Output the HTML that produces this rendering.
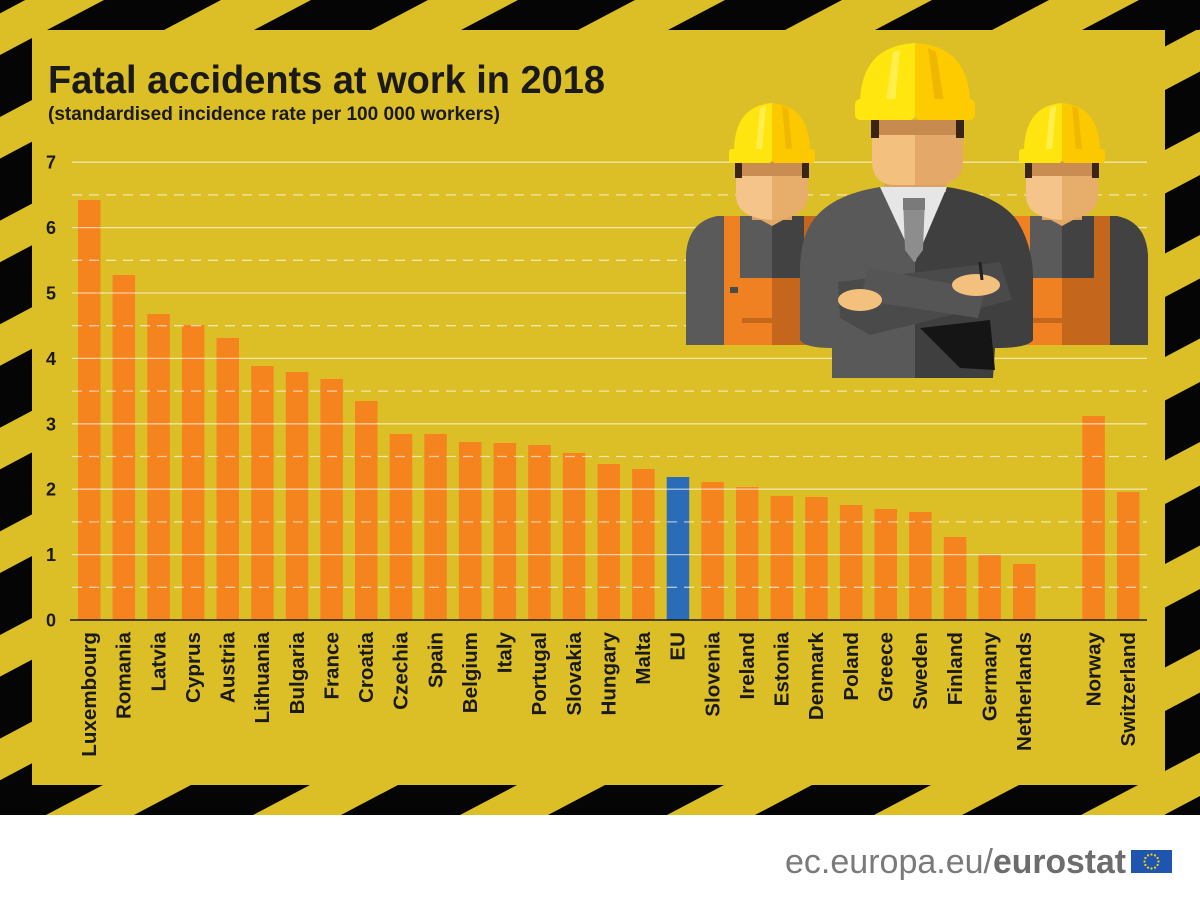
<!DOCTYPE html>
<html>
<head>
<meta charset="utf-8">
<style>
  html,body{margin:0;padding:0;background:#fff;}
  svg{display:block;}
  text{font-family:"Liberation Sans",Arial,sans-serif;}
</style>
</head>
<body>
<svg width="1200" height="901" viewBox="0 0 1200 901" xmlns="http://www.w3.org/2000/svg">
  <defs>
    <clipPath id="cTop"><rect x="0" y="0" width="1200" height="30"/></clipPath>
    <clipPath id="cBot"><rect x="0" y="785" width="1200" height="30"/></clipPath>
    <clipPath id="cLeft"><rect x="0" y="0" width="32" height="815"/></clipPath>
    <clipPath id="cRight"><rect x="1165" y="0" width="35" height="815"/></clipPath>
  </defs>

  <!-- background -->
  <rect x="0" y="0" width="1200" height="901" fill="#ffffff"/>
  <rect x="0" y="0" width="1200" height="815" fill="#dcbe27"/>

  <!-- hazard stripes -->
  <g fill="#050505">
    <g clip-path="url(#cTop)">
      <polygon points="-160,30 -43,30 14,0 -103,0"/>
      <polygon points="47,30 164,30 221,0 104,0"/>
      <polygon points="254,30 371,30 428,0 311,0"/>
      <polygon points="461,30 578,30 635,0 518,0"/>
      <polygon points="668,30 785,30 842,0 725,0"/>
      <polygon points="875,30 992,30 1049,0 932,0"/>
      <polygon points="1082,30 1199,30 1256,0 1139,0"/>
    </g>
    <g clip-path="url(#cBot)">
      <polygon points="-16,785 103,785 46,815 -73,815"/>
      <polygon points="191,785 310,785 253,815 134,815"/>
      <polygon points="398,785 517,785 460,815 341,815"/>
      <polygon points="605,785 724,785 667,815 548,815"/>
      <polygon points="812,785 931,785 874,815 755,815"/>
      <polygon points="1019,785 1138,785 1081,815 962,815"/>
      <polygon points="1226,785 1345,785 1288,815 1169,815"/>
    </g>
    <g clip-path="url(#cLeft)">
      <polygon points="32,-65.6 32,-3.6 0,13.4 0,-48.6"/>
      <polygon points="32,38 32,100 0,117 0,55"/>
      <polygon points="32,141.6 32,203.6 0,220.6 0,158.6"/>
      <polygon points="32,245.2 32,307.2 0,324.2 0,262.2"/>
      <polygon points="32,348.8 32,410.8 0,427.8 0,365.8"/>
      <polygon points="32,452.4 32,514.4 0,531.4 0,469.4"/>
      <polygon points="32,556 32,618 0,635 0,573"/>
      <polygon points="32,659.6 32,721.6 0,738.6 0,676.6"/>
      <polygon points="32,763.2 32,825.2 0,842.2 0,780.2"/>
    </g>
    <g clip-path="url(#cRight)">
      <polygon points="1165,-13.5 1200,-32 1200,28 1165,46.5"/>
      <polygon points="1165,90 1200,71.5 1200,131.5 1165,150"/>
      <polygon points="1165,193.5 1200,175 1200,235 1165,253.5"/>
      <polygon points="1165,297 1200,278.5 1200,338.5 1165,357"/>
      <polygon points="1165,400.5 1200,382 1200,442 1165,460.5"/>
      <polygon points="1165,504 1200,485.5 1200,545.5 1165,564"/>
      <polygon points="1165,607.5 1200,589 1200,649 1165,667.5"/>
      <polygon points="1165,711 1200,692.5 1200,752.5 1165,771"/>
      <polygon points="1165,814.5 1200,796 1200,856 1165,874.5"/>
    </g>
  </g>

  <!-- title -->
  <text x="48" y="93" font-size="39" font-weight="bold" fill="#1a1a1a" textLength="557" lengthAdjust="spacingAndGlyphs">Fatal accidents at work in 2018</text>
  <text x="48" y="120" font-size="19" font-weight="bold" fill="#1a1a1a" textLength="452" lengthAdjust="spacingAndGlyphs">(standardised incidence rate per 100 000 workers)</text>

  <!-- bars -->
  <g fill="#f5841f">
    <rect x="78.0" y="200" width="22.5" height="420"/>
    <rect x="112.6" y="275" width="22.5" height="345"/>
    <rect x="147.3" y="314" width="22.5" height="306"/>
    <rect x="181.9" y="325" width="22.5" height="295"/>
    <rect x="216.5" y="338" width="22.5" height="282"/>
    <rect x="251.2" y="366" width="22.5" height="254"/>
    <rect x="285.8" y="372" width="22.5" height="248"/>
    <rect x="320.4" y="379" width="22.5" height="241"/>
    <rect x="355.0" y="401" width="22.5" height="219"/>
    <rect x="389.7" y="434" width="22.5" height="186"/>
    <rect x="424.3" y="434" width="22.5" height="186"/>
    <rect x="458.9" y="442" width="22.5" height="178"/>
    <rect x="493.6" y="443" width="22.5" height="177"/>
    <rect x="528.2" y="445" width="22.5" height="175"/>
    <rect x="562.8" y="453" width="22.5" height="167"/>
    <rect x="597.5" y="464" width="22.5" height="156"/>
    <rect x="632.1" y="469" width="22.5" height="151"/>
    <rect x="701.3" y="482" width="22.5" height="138"/>
    <rect x="736.0" y="487" width="22.5" height="133"/>
    <rect x="770.6" y="496" width="22.5" height="124"/>
    <rect x="805.2" y="497" width="22.5" height="123"/>
    <rect x="839.9" y="505" width="22.5" height="115"/>
    <rect x="874.5" y="509" width="22.5" height="111"/>
    <rect x="909.1" y="512" width="22.5" height="108"/>
    <rect x="943.8" y="537" width="22.5" height="83"/>
    <rect x="978.4" y="555" width="22.5" height="65"/>
    <rect x="1013.0" y="564" width="22.5" height="56"/>
    <rect x="1082.3" y="416" width="22.5" height="204"/>
    <rect x="1116.9" y="492" width="22.5" height="128"/>
  </g>
  <rect x="666.7" y="477" width="22.5" height="143" fill="#2a6cb8"/>

  <!-- gridlines -->
  <g stroke="#ffffff" stroke-opacity="0.6" stroke-width="1.3">
    <line x1="72" y1="162.2" x2="1147" y2="162.2"/>
    <line x1="72" y1="227.6" x2="1147" y2="227.6"/>
    <line x1="72" y1="293.0" x2="1147" y2="293.0"/>
    <line x1="72" y1="358.4" x2="1147" y2="358.4"/>
    <line x1="72" y1="423.8" x2="1147" y2="423.8"/>
    <line x1="72" y1="489.2" x2="1147" y2="489.2"/>
    <line x1="72" y1="554.6" x2="1147" y2="554.6"/>
  </g>
  <g stroke="#ffffff" stroke-opacity="0.6" stroke-width="1.3" stroke-dasharray="10 7">
    <line x1="72" y1="194.9" x2="1147" y2="194.9"/>
    <line x1="72" y1="260.3" x2="1147" y2="260.3"/>
    <line x1="72" y1="325.7" x2="1147" y2="325.7"/>
    <line x1="72" y1="391.1" x2="1147" y2="391.1"/>
    <line x1="72" y1="456.5" x2="1147" y2="456.5"/>
    <line x1="72" y1="521.9" x2="1147" y2="521.9"/>
    <line x1="72" y1="587.3" x2="1147" y2="587.3"/>
  </g>
  <line x1="70" y1="620" x2="1147" y2="620" stroke="#1a1a1a" stroke-width="1.6"/>

  <!-- y labels -->
  <g font-size="18" font-weight="bold" fill="#1a1a1a" text-anchor="middle">
    <text x="51" y="168.7">7</text>
    <text x="51" y="234.1">6</text>
    <text x="51" y="299.5">5</text>
    <text x="51" y="364.9">4</text>
    <text x="51" y="430.3">3</text>
    <text x="51" y="495.7">2</text>
    <text x="51" y="561.1">1</text>
    <text x="51" y="626.5">0</text>
  </g>

  <!-- x labels -->
  <g font-size="20.6" font-weight="bold" fill="#1a1a1a" text-anchor="end">
    <text transform="translate(96.0,632) rotate(-90)">Luxembourg</text>
    <text transform="translate(130.6,632) rotate(-90)">Romania</text>
    <text transform="translate(165.3,632) rotate(-90)">Latvia</text>
    <text transform="translate(199.9,632) rotate(-90)">Cyprus</text>
    <text transform="translate(234.5,632) rotate(-90)">Austria</text>
    <text transform="translate(269.2,632) rotate(-90)">Lithuania</text>
    <text transform="translate(303.8,632) rotate(-90)">Bulgaria</text>
    <text transform="translate(338.4,632) rotate(-90)">France</text>
    <text transform="translate(373.0,632) rotate(-90)">Croatia</text>
    <text transform="translate(407.7,632) rotate(-90)">Czechia</text>
    <text transform="translate(442.3,632) rotate(-90)">Spain</text>
    <text transform="translate(476.9,632) rotate(-90)">Belgium</text>
    <text transform="translate(511.6,632) rotate(-90)">Italy</text>
    <text transform="translate(546.2,632) rotate(-90)">Portugal</text>
    <text transform="translate(580.8,632) rotate(-90)">Slovakia</text>
    <text transform="translate(615.5,632) rotate(-90)">Hungary</text>
    <text transform="translate(650.1,632) rotate(-90)">Malta</text>
    <text transform="translate(684.7,632) rotate(-90)">EU</text>
    <text transform="translate(719.3,632) rotate(-90)">Slovenia</text>
    <text transform="translate(754.0,632) rotate(-90)">Ireland</text>
    <text transform="translate(788.6,632) rotate(-90)">Estonia</text>
    <text transform="translate(823.2,632) rotate(-90)">Denmark</text>
    <text transform="translate(857.9,632) rotate(-90)">Poland</text>
    <text transform="translate(892.5,632) rotate(-90)">Greece</text>
    <text transform="translate(927.1,632) rotate(-90)">Sweden</text>
    <text transform="translate(961.8,632) rotate(-90)">Finland</text>
    <text transform="translate(996.4,632) rotate(-90)">Germany</text>
    <text transform="translate(1031.0,632) rotate(-90)">Netherlands</text>
    <text transform="translate(1100.3,632) rotate(-90)">Norway</text>
    <text transform="translate(1134.9,632) rotate(-90)">Switzerland</text>
  </g>

  <!-- workers (generic, centred at 0) -->
  <defs>
    <g id="worker">
      <path d="M-86,345 L-86,255 Q-84,222 -55,216 L0,216 L0,345 Z" fill="#5a5a5a"/>
      <path d="M0,216 L55,216 Q84,222 86,255 L86,345 L0,345 Z" fill="#424242"/>
      <rect x="-20" y="200" width="40" height="20" fill="#dba060"/>
      <path d="M-22,214 L22,214 L0,226 Z" fill="#e2a865"/>
      <rect x="-48" y="216" width="16" height="66" fill="#f08122"/>
      <rect x="32" y="216" width="16" height="66" fill="#c4661b"/>
      <rect x="-48" y="278" width="48" height="67" fill="#f08122"/>
      <rect x="0" y="278" width="48" height="67" fill="#c4661b"/>
      <rect x="-30" y="318" width="78" height="5" fill="#c4661b"/>
      <rect x="-42" y="287" width="8" height="6" fill="#4a4a4a"/>
      <path d="M-36,160 L0,160 L0,220 Q-36,218 -36,195 Z" fill="#f4c48a"/>
      <path d="M0,160 L36,160 L36,195 Q36,218 0,220 Z" fill="#e6ad6b"/>
      <rect x="-36" y="160" width="72" height="16" fill="#c98d52"/>
      <rect x="-37" y="160" width="7" height="18" fill="#3a2516"/>
      <rect x="30" y="160" width="7" height="18" fill="#3a2516"/>
      <path d="M-38,152 Q-38,106 0,103 L0,152 Z" fill="#ffe510"/>
      <path d="M0,103 Q38,106 38,152 L0,152 Z" fill="#fcc800"/>
      <path d="M-12,108 L-16,150 L-10,150 L-6,106 Z" fill="#fff266" opacity="0.7"/>
      <path d="M10,106 L14,150 L20,150 L16,108 Z" fill="#f0b800"/>
      <rect x="-43" y="149" width="43" height="14" rx="3" fill="#ffe510"/>
      <rect x="0" y="149" width="43" height="14" rx="3" fill="#fcc800"/>
    </g>
  </defs>
  <use href="#worker" transform="translate(772,0)"/>
  <use href="#worker" transform="translate(1062,0)"/>

  <!-- centre man -->
  <g>
    <path d="M915,187 L880,187 Q830,195 812,222 Q800,240 800,270 L800,340 Q805,348 832,348 L832,378 L915,378 Z" fill="#595959"/>
    <path d="M915,187 L947,187 Q1000,195 1018,222 Q1032,245 1033,275 L1033,340 Q1028,348 995,348 L993,378 L915,378 Z" fill="#3f3f3f"/>
    <rect x="884" y="170" width="62" height="22" fill="#dca262"/>
    <polygon points="880,187 947,187 915,262" fill="#e6e6e6"/>
    <polygon points="903,198 925,198 923,250 914,262 905,250" fill="#8d8d8d"/>
    <rect x="903" y="198" width="22" height="12" fill="#7a7a7a"/>
    <!-- arms -->
    <polygon points="838,282 1000,262 1012,300 870,335 840,318" fill="#4a4a4a"/>
    <polygon points="868,268 985,290 978,318 860,300" fill="#555555"/>
    <polygon points="920,328 990,320 995,370 960,368" fill="#151515"/>
    <ellipse cx="860" cy="300" rx="22" ry="11" fill="#f3c07e"/>
    <ellipse cx="976" cy="285" rx="24" ry="11" fill="#f3c07e"/>
    <line x1="980" y1="262" x2="982" y2="280" stroke="#222" stroke-width="3"/>
    <!-- head -->
    <path d="M872,120 L915,120 L915,185 L895,185 Q872,185 872,160 Z" fill="#f3c07e"/>
    <path d="M915,120 L963,120 L963,160 Q963,185 935,185 L915,185 Z" fill="#e4a968"/>
    <rect x="872" y="120" width="91" height="15" fill="#c78b4f"/>
    <rect x="871" y="120" width="8" height="18" fill="#3a2414"/>
    <rect x="956" y="120" width="8" height="18" fill="#3a2414"/>
    <!-- helmet -->
    <path d="M860,105 Q860,46 915,43 L915,105 Z" fill="#ffe60f"/>
    <path d="M915,43 Q970,46 970,105 L915,105 Z" fill="#fdcb00"/>
    <path d="M893,52 L886,102 L895,102 L900,50 Z" fill="#fff266" opacity="0.7"/>
    <path d="M928,48 L935,102 L944,102 L936,52 Z" fill="#efb700"/>
    <rect x="855" y="99" width="60" height="21" rx="5" fill="#ffe60f"/>
    <rect x="915" y="99" width="60" height="21" rx="5" fill="#fdcb00"/>
  </g>

  <!-- footer -->
  <text x="785" y="873" font-size="34" fill="#7a7a7a" textLength="208" lengthAdjust="spacingAndGlyphs">ec.europa.eu/</text>
  <text x="993" y="873" font-size="34" font-weight="bold" fill="#6d6d6d" textLength="133" lengthAdjust="spacingAndGlyphs">eurostat</text>
  <rect x="1131" y="850" width="41" height="23" fill="#1d55b0"/>
  <g fill="#ffd500">
    <circle cx="1151.5" cy="854.5" r="1.1"/>
    <circle cx="1155" cy="855.4" r="1.1"/>
    <circle cx="1157.6" cy="858" r="1.1"/>
    <circle cx="1158.5" cy="861.5" r="1.1"/>
    <circle cx="1157.6" cy="865" r="1.1"/>
    <circle cx="1155" cy="867.6" r="1.1"/>
    <circle cx="1151.5" cy="868.5" r="1.1"/>
    <circle cx="1148" cy="867.6" r="1.1"/>
    <circle cx="1145.4" cy="865" r="1.1"/>
    <circle cx="1144.5" cy="861.5" r="1.1"/>
    <circle cx="1145.4" cy="858" r="1.1"/>
    <circle cx="1148" cy="855.4" r="1.1"/>
  </g>
</svg>
</body>
</html>
